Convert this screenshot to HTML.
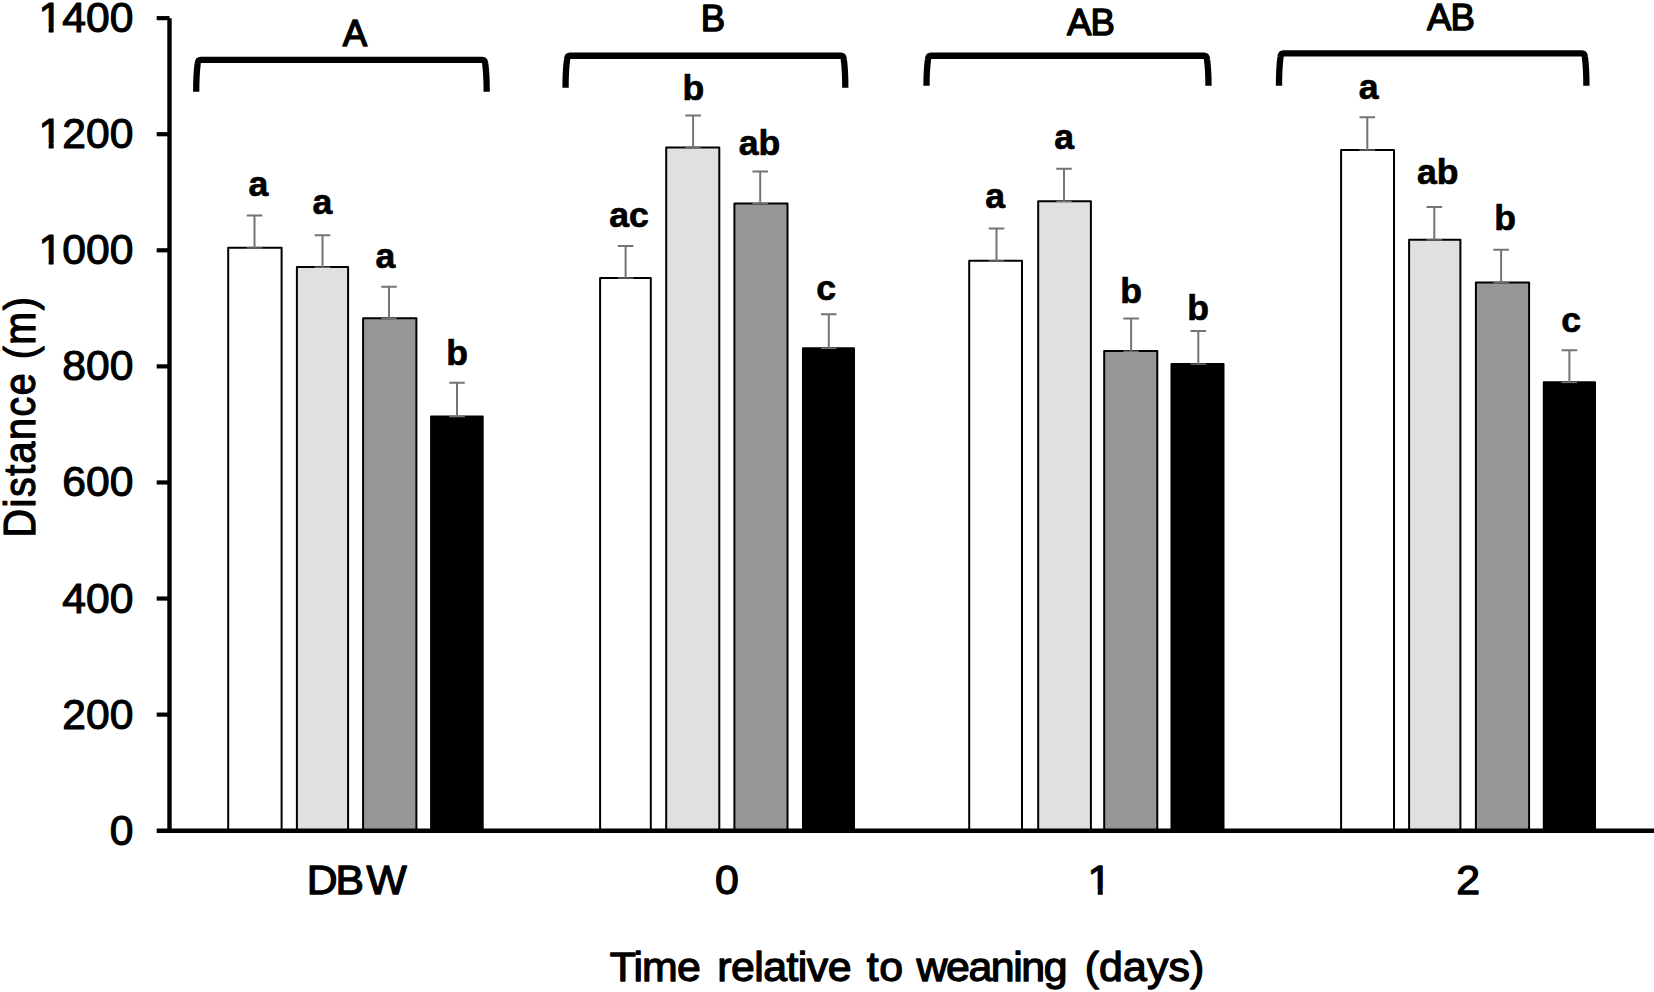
<!DOCTYPE html>
<html lang="en"><head><meta charset="utf-8"><title>Distance relative to weaning</title>
<style>html,body{margin:0;padding:0;background:#fff;}body{width:1654px;height:992px;overflow:hidden;}svg{display:block;}text{font-family:"Liberation Sans",Arial,Helvetica,sans-serif;fill:#000;stroke:#000;stroke-width:1.1px;stroke-linejoin:round;}.b text{font-weight:bold;stroke-width:0.7px;}#glabels text{stroke-width:1.4px;}</style></head><body>
<svg width="1654" height="992" viewBox="0 0 1654 992">
<rect x="0" y="0" width="1654" height="992" fill="#fff"/>
<g id="bars" stroke="#000" stroke-width="2.00" stroke-linejoin="round">
<rect x="228.20" y="247.80" width="53.40" height="582.90" fill="#ffffff"/>
<rect x="296.90" y="267.10" width="51.20" height="563.60" fill="#e0e0e0"/>
<rect x="363.10" y="318.20" width="53.30" height="512.50" fill="#969696"/>
<rect x="431.10" y="416.50" width="51.60" height="414.20" fill="#000000"/>
<rect x="600.10" y="277.90" width="50.70" height="552.80" fill="#ffffff"/>
<rect x="666.20" y="147.60" width="53.10" height="683.10" fill="#e0e0e0"/>
<rect x="734.40" y="203.50" width="53.10" height="627.20" fill="#969696"/>
<rect x="803.00" y="348.20" width="51.00" height="482.50" fill="#000000"/>
<rect x="969.20" y="260.80" width="52.80" height="569.90" fill="#ffffff"/>
<rect x="1038.20" y="201.30" width="52.70" height="629.40" fill="#e0e0e0"/>
<rect x="1104.20" y="351.10" width="53.10" height="479.60" fill="#969696"/>
<rect x="1171.50" y="364.00" width="52.00" height="466.70" fill="#000000"/>
<rect x="1341.10" y="149.90" width="52.90" height="680.80" fill="#ffffff"/>
<rect x="1409.10" y="239.70" width="51.30" height="591.00" fill="#e0e0e0"/>
<rect x="1475.90" y="282.60" width="53.20" height="548.10" fill="#969696"/>
<rect x="1543.80" y="382.30" width="51.20" height="448.40" fill="#000000"/>
</g>
<g id="errs" stroke="#747474" stroke-width="2.0" fill="none">
<path d="M254.50 247.90V215.60M246.70 215.60H262.30"/><path stroke-width="1.3" d="M246.70 247.95H262.30"/>
<path d="M322.50 267.20V235.30M314.70 235.30H330.30"/><path stroke-width="1.3" d="M314.70 267.25H330.30"/>
<path d="M389.00 318.30V286.70M381.20 286.70H396.80"/><path stroke-width="1.3" d="M381.20 318.35H396.80"/>
<path d="M457.00 416.60V382.80M449.20 382.80H464.80"/><path stroke-width="1.3" d="M449.20 416.65H464.80"/>
<path d="M625.60 278.00V246.00M617.80 246.00H633.40"/><path stroke-width="1.3" d="M617.80 278.05H633.40"/>
<path d="M693.10 147.70V115.40M685.30 115.40H700.90"/><path stroke-width="1.3" d="M685.30 147.75H700.90"/>
<path d="M760.20 203.60V171.60M752.40 171.60H768.00"/><path stroke-width="1.3" d="M752.40 203.65H768.00"/>
<path d="M828.80 348.30V314.20M821.00 314.20H836.60"/><path stroke-width="1.3" d="M821.00 348.35H836.60"/>
<path d="M996.50 260.90V228.60M988.70 228.60H1004.30"/><path stroke-width="1.3" d="M988.70 260.95H1004.30"/>
<path d="M1064.00 201.40V168.70M1056.20 168.70H1071.80"/><path stroke-width="1.3" d="M1056.20 201.45H1071.80"/>
<path d="M1131.10 351.20V318.60M1123.30 318.60H1138.90"/><path stroke-width="1.3" d="M1123.30 351.25H1138.90"/>
<path d="M1198.30 364.10V330.90M1190.50 330.90H1206.10"/><path stroke-width="1.3" d="M1190.50 364.15H1206.10"/>
<path d="M1367.30 150.00V117.20M1359.50 117.20H1375.10"/><path stroke-width="1.3" d="M1359.50 150.05H1375.10"/>
<path d="M1434.30 239.80V206.90M1426.50 206.90H1442.10"/><path stroke-width="1.3" d="M1426.50 239.85H1442.10"/>
<path d="M1501.10 282.70V249.80M1493.30 249.80H1508.90"/><path stroke-width="1.3" d="M1493.30 282.75H1508.90"/>
<path d="M1569.40 382.40V350.30M1561.60 350.30H1577.20"/><path stroke-width="1.3" d="M1561.60 382.45H1577.20"/>
</g>
<g id="axes" stroke="#000" stroke-width="4.4" fill="none">
<path d="M169.50 18.14V832.90"/>
<path d="M156.7 830.70H1654"/>
<path d="M156.7 714.62H169.50" stroke-width="4.2"/>
<path d="M156.7 598.54H169.50" stroke-width="4.2"/>
<path d="M156.7 482.46H169.50" stroke-width="4.2"/>
<path d="M156.7 366.38H169.50" stroke-width="4.2"/>
<path d="M156.7 250.30H169.50" stroke-width="4.2"/>
<path d="M156.7 134.22H169.50" stroke-width="4.2"/>
<path d="M156.7 18.14H169.50" stroke-width="4.2"/>
</g>
<defs><clipPath id="nofoot" clipPathUnits="userSpaceOnUse"><path clip-rule="evenodd" d="M0 0H1654V992H0ZM38.54 259.17H48.72V265.85H38.54ZM53.59 259.17H61.57V265.85H53.59ZM38.54 143.09H48.72V149.77H38.54ZM53.59 143.09H61.57V149.77H53.59ZM38.54 27.01H48.72V33.69H38.54ZM53.59 27.01H61.57V33.69H53.59ZM1087.59 889.25H1097.81V895.95H1087.59ZM1102.71 889.25H1110.72V895.95H1102.71Z"/></clipPath></defs>
<g clip-path="url(#nofoot)">
<g id="ylabels" font-size="41.8" text-anchor="end">
<text transform="translate(133.4,844.70) scale(1.02,1)">0</text>
<text transform="translate(133.4,728.62) scale(1.02,1)">200</text>
<text transform="translate(133.4,612.54) scale(1.02,1)">400</text>
<text transform="translate(133.4,496.46) scale(1.02,1)">600</text>
<text transform="translate(133.4,380.38) scale(1.02,1)">800</text>
<text transform="translate(133.4,264.30) scale(1.02,1)">1000</text>
<text transform="translate(133.4,148.22) scale(1.02,1)">1200</text>
<text transform="translate(133.4,32.14) scale(1.02,1)">1400</text>
</g>
<text id="ytitle" font-size="39.5" letter-spacing="1.5" text-anchor="middle" transform="translate(35.0,416.5) rotate(-90) scale(1,1.11)">Distance (m)</text>
<g id="xlabels">
<text font-size="40.60" letter-spacing="0.836" text-anchor="start" dx="0 -2.85 1.7" style="stroke-width:1.25px" transform="translate(306.85,894.40) scale(1.050,1)">DBW</text>
<text font-size="40.80" letter-spacing="0.000" text-anchor="start" style="stroke-width:1.25px" transform="translate(715.00,894.40) scale(1.050,1)">0</text>
<text font-size="40.80" letter-spacing="0.000" text-anchor="start" style="stroke-width:1.25px" transform="translate(1087.59,894.40) scale(1.050,1)">1</text>
<text font-size="40.80" letter-spacing="0.000" text-anchor="start" style="stroke-width:1.25px" transform="translate(1456.15,894.40) scale(1.050,1)">2</text>
</g>
</g>
<text id="xtitle" font-size="40.8" y="981" style="stroke-width:1.25px" transform="scale(1.050,1)"><tspan x="580.79" letter-spacing="-0.865">Time</tspan> <tspan x="683.12" letter-spacing="-0.519">relative</tspan> <tspan x="825.42" letter-spacing="0.646">to</tspan> <tspan x="872.88" letter-spacing="-1.350">weaning</tspan> <tspan x="1033.01" letter-spacing="0.125">(days)</tspan></text>
<g id="brackets" stroke="#000" stroke-width="6.3" fill="none" stroke-linejoin="round">
<path d="M196.20 91.80C196.20 81.80 196.70 70.80 197.70 63.40Q198.10 59.80 200.60 59.80H482.30Q484.80 59.80 485.20 63.40C486.20 70.80 486.70 81.80 486.70 91.80"/>
<path d="M565.55 87.75C565.55 77.75 566.05 66.75 567.05 59.35Q567.45 55.75 569.95 55.75H840.90Q843.40 55.75 843.80 59.35C844.80 66.75 845.30 77.75 845.30 87.75"/>
<path d="M926.50 85.80C926.50 75.80 927.00 66.75 928.00 59.35Q928.40 55.75 930.90 55.75H1204.10Q1206.60 55.75 1207.00 59.35C1208.00 66.75 1208.50 75.80 1208.50 85.80"/>
<path d="M1279.00 85.80C1279.00 75.80 1279.50 64.45 1280.50 57.05Q1280.90 53.45 1283.40 53.45H1582.00Q1584.50 53.45 1584.90 57.05C1585.90 64.45 1586.40 75.80 1586.40 85.80"/>
</g>
<g id="glabels" font-size="36.6" text-anchor="middle" letter-spacing="-0.9">
<text x="354.5" y="45.5">A</text>
<text x="712.5" y="30.8">B</text>
<text x="1090.5" y="35.2">AB</text>
<text x="1450.6" y="29.5">AB</text>
</g>
<g id="letters" class="b" font-size="35.6" text-anchor="middle">
<text x="258.5" y="195.5">a</text>
<text x="322.5" y="213.8">a</text>
<text x="385.5" y="268.0">a</text>
<text x="457.0" y="364.5">b</text>
<text x="629.0" y="227.1">ac</text>
<text x="693.3" y="99.8">b</text>
<text x="759.4" y="155.0">ab</text>
<text x="826.1" y="299.8">c</text>
<text x="995.2" y="207.5">a</text>
<text x="1064.2" y="148.8">a</text>
<text x="1131.0" y="303.0">b</text>
<text x="1198.0" y="320.0">b</text>
<text x="1368.6" y="99.0">a</text>
<text x="1437.7" y="183.9">ab</text>
<text x="1505.0" y="230.4">b</text>
<text x="1571.2" y="332.2">c</text>
</g>
</svg></body></html>
